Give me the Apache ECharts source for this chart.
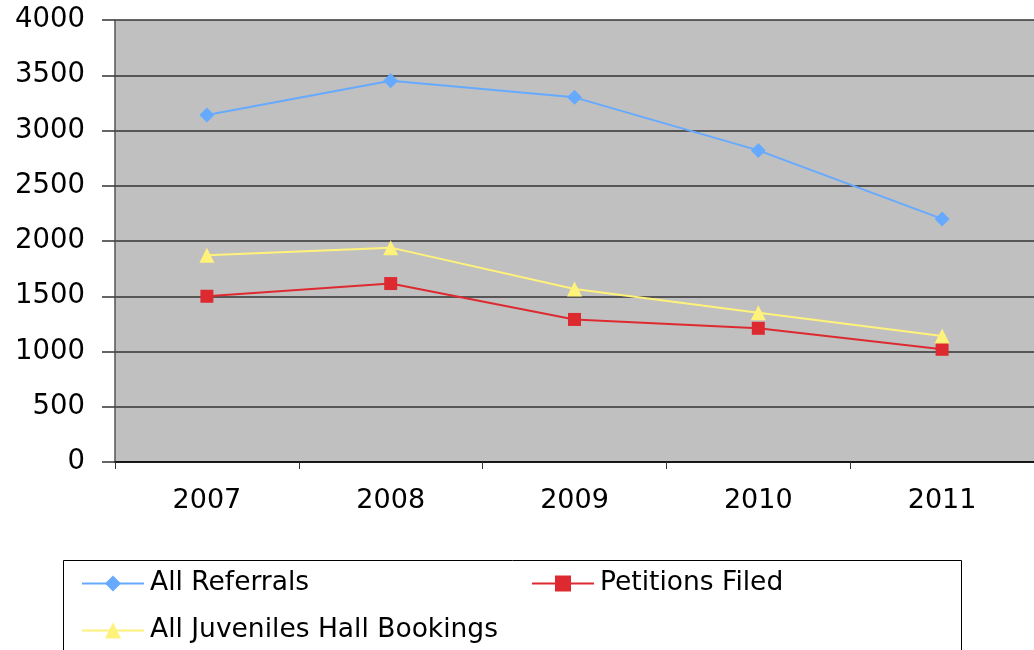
<!DOCTYPE html>
<html><head><meta charset="utf-8">
<script src="https://cdn.jsdelivr.net/npm/echarts@6/dist/echarts.min.js"></script>
<style>html,body{margin:0;padding:0;background:#fff}#c{width:1034px;height:650px}</style>
</head><body><div id="c"></div>
<script>
const categories = ['2007','2008','2009','2010','2011'];
const allReferrals = [3140, 3450, 3300, 2820, 2200];
const petitionsFiled = [1500, 1615, 1290, 1210, 1020];
const hallBookings = [1870, 1940, 1565, 1350, 1140];
const seriesNames = ['All Referrals','Petitions Filed','All Juveniles Hall Bookings'];

const chart = echarts.init(document.getElementById('c'), null, {renderer:'canvas'});
const font = 'DejaVu Sans, sans-serif';
const colors = ['#66AAFF','#DD2A30','#FFF27A'];
const symbols = ['diamond','rect','triangle'];
const sizes = [15,13,15];
const data = [allReferrals, petitionsFiled, hallBookings];
const legendStyle = {
  itemWidth: 62, itemHeight: 20, itemGap: 10,
  textStyle: {fontFamily: font, fontSize: 26.5, color: '#000', padding:[0,0,0,1]},
  selectedMode: false, padding: 0
};
chart.setOption({
  animation: false,
  backgroundColor: '#fff',
  grid: {left: 115, top: 20, right: 0, bottom: 188, show: true, backgroundColor: '#C0C0C0', borderWidth: 0},
  xAxis: {
    type: 'category', data: categories, boundaryGap: true,
    axisLine: {lineStyle: {color: '#000', width: 1.5}},
    axisTick: {show: true, length: 7, lineStyle: {color: '#333'}},
    axisLabel: {fontFamily: font, fontSize: 27, color: '#000', margin: 25},
    splitLine: {show: false}
  },
  yAxis: {
    type: 'value', min: 0, max: 4000, interval: 500,
    axisLine: {show: true, lineStyle: {color: '#555', width: 1.5}},
    axisTick: {show: true, length: 13, lineStyle: {color: '#333', width: 1.5}},
    axisLabel: {fontFamily: font, fontSize: 27.5, color: '#000', margin: 30, formatter: v => String(v)},
    splitLine: {show: true, lineStyle: {color: '#333', width: 1.5}}
  },
  graphic: [{type: 'rect', shape: {x: 63.5, y: 560.5, width: 898, height: 100}, style: {fill: '#fff', stroke: '#000', lineWidth: 1}, z: -1}],
  legend: [
    Object.assign({data: [seriesNames[0]], left: 81, top: 570}, legendStyle),
    Object.assign({data: [seriesNames[1]], left: 531, top: 570}, legendStyle),
    Object.assign({data: [seriesNames[2]], left: 81, top: 617}, legendStyle)
  ],
  series: seriesNames.map((n, i) => ({
    name: n, type: 'line', data: data[i],
    symbol: symbols[i], symbolSize: sizes[i], showAllSymbol: true,
    itemStyle: {color: colors[i]},
    lineStyle: {color: colors[i], width: 2},
    emphasis: {disabled: true}
  }))
});
</script></body></html>
